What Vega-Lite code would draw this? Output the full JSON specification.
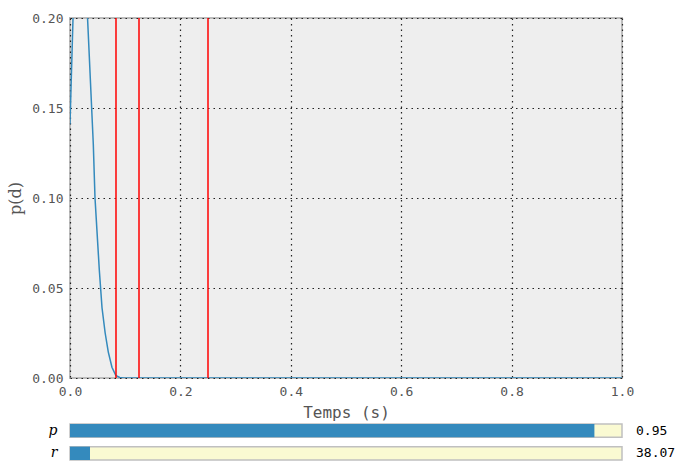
{
  "$schema": "https://vega.github.io/schema/vega-lite/v6.json",
  "padding": {"left": 6, "top": 11, "right": 2, "bottom": 2},
  "background": "white",
  "spacing": 2,
  "config": {
    "view": {"stroke": null},
    "axis": {"labelFont": "DejaVu Sans Mono", "labelFontSize": 13, "labelColor": "#555555", "titleFont": "DejaVu Sans Mono", "titleFontSize": 16, "titleFontWeight": "normal", "titleColor": "#555555", "ticks": false, "domain": false, "labelFlush": false}
  },
  "datasets": {
    "curve": [
      {"t": 0.0, "p": 0.141},
      {"t": 0.0101, "p": 0.25},
      {"t": 0.0202, "p": 0.27},
      {"t": 0.0303, "p": 0.21},
      {"t": 0.0422, "p": 0.13},
      {"t": 0.0453, "p": 0.1},
      {"t": 0.0531, "p": 0.06},
      {"t": 0.058, "p": 0.039},
      {"t": 0.0637, "p": 0.025},
      {"t": 0.0694, "p": 0.0144},
      {"t": 0.076, "p": 0.006},
      {"t": 0.0828, "p": 0.0015},
      {"t": 0.09, "p": 0.0003},
      {"t": 0.098, "p": 0.0},
      {"t": 0.2, "p": 0.0},
      {"t": 0.4, "p": 0.0},
      {"t": 0.6, "p": 0.0},
      {"t": 0.8, "p": 0.0},
      {"t": 1.0, "p": 0.0}
    ],
    "marks": [{"t": 0.08333}, {"t": 0.125}, {"t": 0.25}],
    "sliders": [
      {"name": "p", "value": 0.95, "label": "0.95"},
      {"name": "r", "value": 38.07, "label": "38.07"}
    ]
  },
  "vconcat": [
    {
      "width": 552,
      "height": 360,
      "view": {"fill": "#eeeeee", "stroke": "#bcbcbc", "strokeWidth": 2},
      "layer": [
        {
          "data": {"name": "curve"},
          "mark": {"type": "line", "color": "#348abd", "strokeWidth": 1.5, "clip": true},
          "encoding": {
            "x": {"field": "t", "type": "quantitative", "scale": {"domain": [0, 1], "nice": false},
              "axis": {"title": "Temps (s)", "format": ".1f", "values": [0, 0.2, 0.4, 0.6, 0.8, 1.0], "grid": true, "gridColor": "#222222", "gridDash": [1.5, 4], "gridWidth": 1.2, "labelPadding": 7, "titlePadding": 6}},
            "y": {"field": "p", "type": "quantitative", "scale": {"domain": [0, 0.2], "nice": false},
              "axis": {"title": "p(d)", "titleFont": "DejaVu Serif", "titleFontSize": 16, "format": ".2f", "values": [0, 0.05, 0.1, 0.15, 0.2], "grid": true, "gridColor": "#222222", "gridDash": [1.5, 4], "gridWidth": 1.2, "labelPadding": 7, "titlePadding": 8}}
          }
        },
        {
          "data": {"name": "marks"},
          "mark": {"type": "rule", "color": "#ff0000", "strokeWidth": 1.5},
          "encoding": {"x": {"field": "t", "type": "quantitative"}}
        }
      ]
    },
    {
      "width": 552,
      "height": 36,
      "data": {"name": "sliders"},
      "layer": [
        {
          "mark": {"type": "bar", "fill": "#fafad2", "stroke": "#c0c0c0", "strokeWidth": 1.5},
          "encoding": {
            "y": {"field": "name", "type": "nominal", "scale": {"paddingInner": 0.41, "paddingOuter": 0},
              "axis": {"title": null, "grid": false, "labelFont": "DejaVu Serif", "labelFontStyle": "italic", "labelFontSize": 14, "labelColor": "#000000", "labelPadding": 13}},
            "x": {"datum": 1, "type": "quantitative", "scale": {"domain": [0, 1], "nice": false}, "axis": null}
          }
        },
        {
          "transform": [{"filter": "datum.name === 'p'"}],
          "mark": {"type": "bar", "fill": "#348abd"},
          "encoding": {
            "y": {"field": "name", "type": "nominal"},
            "x": {"field": "value", "type": "quantitative", "scale": {"domain": [0, 1], "nice": false}, "axis": null}
          }
        },
        {
          "transform": [{"filter": "datum.name === 'r'"}],
          "mark": {"type": "bar", "fill": "#348abd"},
          "encoding": {
            "y": {"field": "name", "type": "nominal"},
            "x": {"field": "value", "type": "quantitative", "scale": {"domain": [0, 1050], "nice": false}, "axis": null}
          }
        },
        {
          "mark": {"type": "text", "align": "left", "baseline": "middle", "dx": 14, "font": "DejaVu Sans Mono", "fontSize": 13, "color": "#000000"},
          "encoding": {
            "y": {"field": "name", "type": "nominal"},
            "x": {"datum": 1, "type": "quantitative", "scale": {"domain": [0, 1], "nice": false}, "axis": null},
            "text": {"field": "label"}
          }
        }
      ],
      "resolve": {"scale": {"x": "independent"}}
    }
  ]
}
